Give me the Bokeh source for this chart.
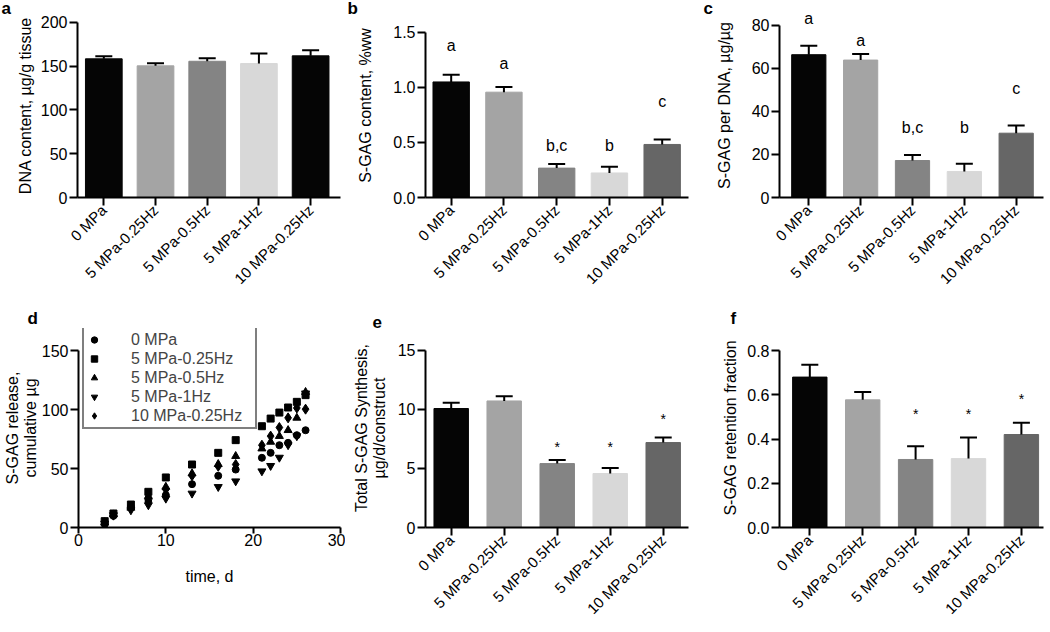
import math
from bokeh.plotting import figure
from bokeh.models import (Range1d, FixedTicker, NumeralTickFormatter, Whisker, TeeHead,
                          ColumnDataSource, Legend, LegendItem)
from bokeh.layouts import row, column
from bokeh.embed import file_html
from bokeh.resources import INLINE
from bokeh.core.properties import value

FONT = "Liberation Sans"

groups = ["0 MPa", "5 MPa-0.25Hz", "5 MPa-0.5Hz", "5 MPa-1Hz", "10 MPa-0.25Hz"]
colors_a = ["#050505", "#a4a4a4", "#848484", "#d8d8d8", "#050505"]
colors_b = ["#050505", "#a4a4a4", "#848484", "#d8d8d8", "#666666"]

# a: DNA content
dna_mean = [158.2, 150.2, 155.4, 152.8, 161.6]
dna_err = [2.9, 2.9, 3.5, 11.4, 6.4]

# b: S-GAG content
gag_mean = [1.05, 0.957, 0.267, 0.223, 0.482]
gag_err = [0.065, 0.046, 0.037, 0.057, 0.044]
gag_letters = ["a", "a", "b,c", "b", "c"]
gag_letter_y = [1.38, 1.22, 0.475, 0.475, 0.876]

# c: S-GAG per DNA
gdna_mean = [66.4, 63.9, 17.2, 12.1, 29.9]
gdna_err = [4.1, 2.8, 2.6, 3.6, 3.6]
gdna_letters = ["a", "a", "b,c", "b", "c"]
gdna_letter_y = [83.1, 73.0, 32.6, 32.6, 50.5]

# d: cumulative S-GAG release
days = [3, 4, 6, 8, 10, 13, 16, 18, 21, 22, 23, 24, 25, 26]
rel_0 = [2.8, 9.9, 17.5, 23.8, 27.5, 36.8, 43.9, 49.2, 59.2, 63.4, 69.9, 71.9, 78.4, 82.6]
rel_5_025 = [5.4, 11.9, 19.5, 30.3, 42.5, 53.5, 63.4, 74.2, 86.0, 92.5, 97.6, 101.9, 106.7, 112.4]
rel_5_05 = [4.0, 11.0, 16.7, 26.6, 34.5, 45.9, 53.8, 60.6, 67.0, 72.7, 77.6, 82.6, 93.1, 115.0]
rel_5_1 = [3.5, 10.5, 14.7, 19.0, 24.6, 28.9, 34.5, 39.3, 47.8, 52.4, 59.4, 70.0, 77.6, 114.0]
rel_10_025 = [4.0, 10.5, 16.7, 21.8, 32.3, 44.0, 52.0, 53.5, 69.9, 77.6, 84.9, 93.1, 101.5, 100.5]

# e: total S-GAG synthesis
syn_mean = [10.07, 10.71, 5.41, 4.57, 7.19]
syn_err = [0.48, 0.40, 0.31, 0.47, 0.42]
syn_marks = ["", "", "*", "*", "*"]
syn_mark_y = [0, 0, 6.82, 6.82, 9.14]

# f: S-GAG retention fraction
ret_mean = [0.681, 0.578, 0.308, 0.312, 0.421]
ret_err = [0.056, 0.036, 0.060, 0.096, 0.053]
ret_marks = ["", "", "*", "*", "*"]
ret_mark_y = [0, 0, 0.513, 0.513, 0.581]


def style_axes(p, ylabel, xlabel=None, ystand=4, xstand=5):
    for ax in (p.xaxis[0], p.yaxis[0]):
        ax.axis_line_width = 2
        ax.axis_line_color = "black"
        ax.major_tick_line_width = 2
        ax.major_tick_line_color = "black"
        ax.major_tick_out = 8
        ax.major_tick_in = 0
        ax.minor_tick_line_color = None
        ax.major_label_text_font = FONT
        ax.major_label_text_font_size = "16px"
        ax.major_label_text_color = "black"
        ax.axis_label_text_font = FONT
        ax.axis_label_text_font_size = "16px"
        ax.axis_label_text_font_style = "normal"
        ax.axis_label_text_color = "black"
        ax.axis_label_text_line_height = 1.05
    p.yaxis[0].axis_label = ylabel
    p.yaxis[0].axis_label_standoff = ystand
    p.yaxis[0].major_label_standoff = 2
    if xlabel:
        p.xaxis[0].axis_label = xlabel
    p.xaxis[0].axis_label_standoff = xstand
    p.xaxis[0].major_label_standoff = 2
    p.grid.visible = False
    p.outline_line_color = None
    p.background_fill_color = "white"
    p.border_fill_color = "white"


def set_letter(p, letter, offset, standoff):
    p.title.text = letter
    p.title.text_font = FONT
    p.title.text_font_size = "17px"
    p.title.text_font_style = "bold"
    p.title.text_color = "black"
    p.title.text_line_height = 1.0
    p.title.align = "left"
    p.title.offset = offset
    p.title.standoff = standoff


def bar_panel(means, errs, colors, ylabel, ytop, ybound, ystep, yfmt, width, height,
              borders, xr, bar_w, ystand):
    left, right, top, bottom = borders
    p = figure(width=width, height=height, output_backend="svg", toolbar_location=None,
               x_range=Range1d(*xr), y_range=Range1d(0, ytop),
               min_border_left=left, min_border_right=right,
               min_border_top=top, min_border_bottom=bottom)
    xs = list(range(len(groups)))
    src = ColumnDataSource(dict(x=xs, top=means,
                                upper=[m + e for m, e in zip(means, errs)],
                                color=colors))
    p.vbar(x="x", top="top", width=bar_w, fill_color="color", line_color="color", source=src)
    w = Whisker(base="x", lower="top", upper="upper", source=src, dimension="height",
                line_width=2, line_color="black",
                upper_head=TeeHead(size=17, line_width=2, line_color="black"),
                lower_head=None, level="overlay")
    p.add_layout(w)
    style_axes(p, ylabel, ystand=ystand)
    p.xaxis[0].ticker = FixedTicker(ticks=xs)
    p.xaxis[0].major_label_overrides = {i: g for i, g in enumerate(groups)}
    p.xaxis[0].major_label_orientation = math.pi / 4
    p.xaxis[0].major_label_text_font_size = "15px"
    n = int(round(ybound / ystep))
    p.yaxis[0].ticker = FixedTicker(ticks=[i * ystep for i in range(n + 1)])
    p.yaxis[0].formatter = NumeralTickFormatter(format=yfmt)
    p.yaxis[0].bounds = (0, ybound)
    return p


def add_texts(p, labels, ys, size):
    xs = [i for i, t in enumerate(labels) if t]
    tx = [t for t in labels if t]
    ty = [y for y, t in zip(ys, labels) if t]
    p.text(x=xs, y=ty, text=tx, text_font=value(FONT), text_font_size=size,
           text_align="center", text_baseline="middle", text_color="black")


# ---------------- top row (height 306): frames 12..197 ----------------
pa = bar_panel(dna_mean, dna_err, colors_a, "DNA content, µg/g tissue", 209.9, 200, 50, "0",
               345, 306, (77, 5, 12, 109), (-0.509, 4.578), 0.71, 4)
set_letter(pa, "a", -76, -8)

pb = bar_panel(gag_mean, gag_err, colors_b, "S-GAG content, %ww", 1.672, 1.5, 0.5, "0.0",
               355, 306, (80, 12, 12, 109), (-0.487, 4.499), 0.69, 16)
add_texts(pb, gag_letters, gag_letter_y, "16px")
set_letter(pb, "b", -78, -8)

pc = bar_panel(gdna_mean, gdna_err, colors_b, "S-GAG per DNA, µg/µg", 85.55, 80, 20, "0",
               346, 306, (79, 3, 12, 109), (-0.565, 4.527), 0.66, 16)
add_texts(pc, gdna_letters, gdna_letter_y, "16px")
set_letter(pc, "c", -76, -8)

# ---------------- bottom row (height 324): frames 328..527 ----------------
pd = figure(width=345, height=324, output_backend="svg", toolbar_location=None,
            x_range=Range1d(0, 30), y_range=Range1d(0, 169.0),
            min_border_left=77, min_border_right=5, min_border_top=22, min_border_bottom=103)
style_axes(pd, "S-GAG release,\ncumulative µg", "time, d", ystand=0, xstand=19)
pd.xaxis[0].ticker = FixedTicker(ticks=[0, 10, 20, 30])
pd.xaxis[0].major_tick_out = 6
pd.xaxis[0].major_label_standoff = 0
pd.yaxis[0].ticker = FixedTicker(ticks=[0, 50, 100, 150])
pd.yaxis[0].bounds = (0, 150)
series = [("0 MPa", rel_0, "circle", 7), ("5 MPa-0.25Hz", rel_5_025, "square", 7),
          ("5 MPa-0.5Hz", rel_5_05, "triangle", 8), ("5 MPa-1Hz", rel_5_1, "inverted_triangle", 8),
          ("10 MPa-0.25Hz", rel_10_025, "diamond", 10)]
items = []
for name, vals, marker, sz in series:
    r = pd.scatter(x=days, y=vals, marker=marker, size=sz, fill_color="black", line_color="black")
    items.append(LegendItem(label=name, renderers=[r]))
leg = Legend(items=items, location=(4, 98), label_text_font=FONT, label_text_font_size="16px",
             border_line_color="black", border_line_width=2, padding=2, spacing=0,
             glyph_width=16, glyph_height=19, label_height=19, label_standoff=29,
             label_width=122, margin=0, background_fill_alpha=1.0)
pd.add_layout(leg)
set_letter(pd, "d", -51, 1)

pe = bar_panel(syn_mean, syn_err, colors_b, "Total S-GAG Synthesis,\nµg/d/construct", 16.84, 15, 5, "0",
               355, 324, (80, 12, 22, 103), (-0.485, 4.477), 0.65, 7)
add_texts(pe, syn_marks, syn_mark_y, "14px")
set_letter(pe, "e", -53, 1)

pf = bar_panel(ret_mean, ret_err, colors_b, "S-GAG retention fraction", 0.901, 0.8, 0.2, "0.0",
               346, 324, (79, 3, 22, 103), (-0.573, 4.418), 0.65, 5)
add_texts(pf, ret_marks, ret_mark_y, "14px")
set_letter(pf, "f", -49, 1)

layout = column(row(pa, pb, pc), row(pd, pe, pf))
open("out.html", "w").write(file_html(layout, INLINE))
